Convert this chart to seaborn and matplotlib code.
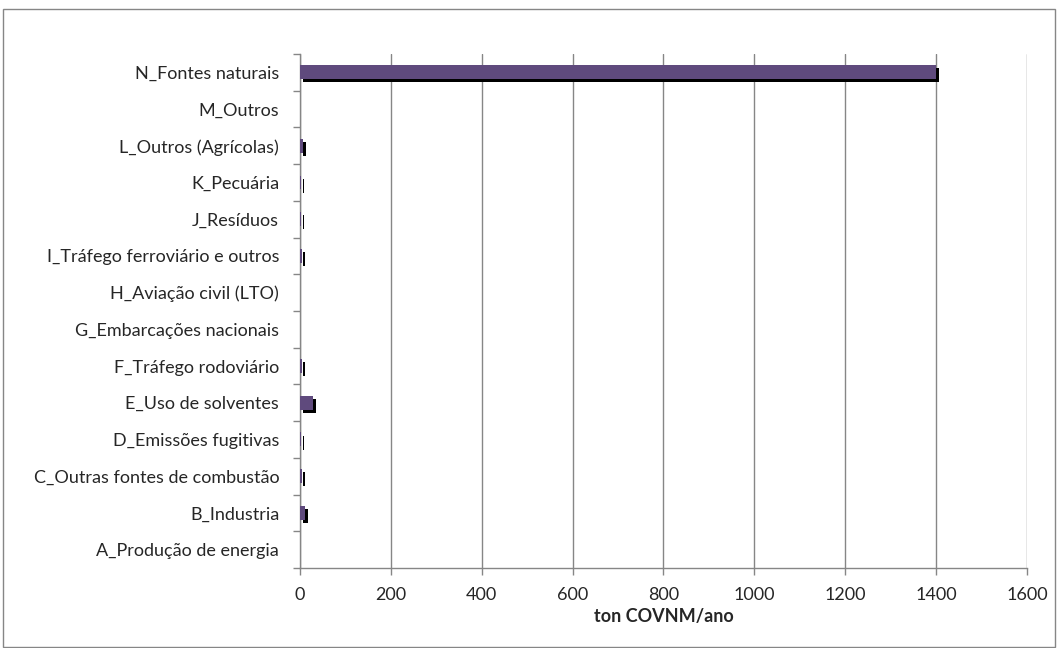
import numpy as np
import pandas as pd
import matplotlib
matplotlib.use("Agg")
import matplotlib.pyplot as plt
import matplotlib.patheffects as pe
from matplotlib.patches import Rectangle
import seaborn as sns

# Emission sources (A..N) and annual NMVOC emissions in tonnes
categories = [
    "A_Produção de energia",
    "B_Industria",
    "C_Outras fontes de combustão",
    "D_Emissões fugitivas",
    "E_Uso de solventes",
    "F_Tráfego rodoviário",
    "G_Embarcações nacionais",
    "H_Aviação civil (LTO)",
    "I_Tráfego ferroviário e outros",
    "J_Resíduos",
    "K_Pecuária",
    "L_Outros (Agrícolas)",
    "M_Outros",
    "N_Fontes naturais",
]
values = [0, 10, 4, 2, 28, 5, 0, 0, 5, 2, 2, 7, 0, 1400]
x_ticks = [0, 200, 400, 600, 800, 1000, 1200, 1400, 1600]
x_label = "ton COVNM/ano"

df = pd.DataFrame({"fonte": categories, "ton": values})

sns.set_theme(style="white")
plt.rcParams["font.family"] = ["Lato", "DejaVu Sans"]

fig = plt.figure(figsize=(10.57, 6.48), dpi=100)
ax = fig.add_axes([0.2838, 0.1235, 0.9716 - 0.2838, 0.9167 - 0.1235])

sns.barplot(
    data=df, y="fonte", x="ton", order=categories[::-1], orient="h",
    color="#5F4A7D", saturation=1, width=0.38, ax=ax, zorder=3,
)
for bar in ax.patches:
    bar.set_edgecolor("none")
    bar.set_path_effects([
        pe.SimplePatchShadow(offset=(2.2, -2.2), shadow_rgbFace="black", alpha=1),
        pe.Normal(),
    ])

ax.set_xlim(0, 1600)
ax.set_ylim(len(categories) - 0.5, -0.5)
ax.set_xticks(x_ticks)
ax.set_xticklabels([str(t) for t in x_ticks], fontsize=13)
ax.set_yticks(range(len(categories)))
ax.set_yticklabels(categories[::-1], fontsize=13)
ax.set_yticks(np.arange(-0.5, len(categories), 1), minor=True)
ax.tick_params(axis="y", which="major", length=0, pad=15)
ax.tick_params(axis="y", which="minor", length=5, width=1, color="#868686", left=True)
ax.tick_params(axis="x", which="major", length=5, width=1, color="#868686", bottom=True, pad=9)

ax.grid(axis="x", color="#868686", linewidth=1, zorder=0)
ax.set_axisbelow(True)
for side in ("top", "right"):
    ax.spines[side].set_visible(False)
for side in ("left", "bottom"):
    ax.spines[side].set_color("#868686")
    ax.spines[side].set_linewidth(1)

ax.set_ylabel("")
ax.set_xlabel(x_label, fontsize=13, fontweight="bold", labelpad=3)

# Chart-area border
fig.patches.append(Rectangle((0.003, 0.001), 0.995, 0.985, transform=fig.transFigure,
                             fill=False, edgecolor="#868686", linewidth=1))

fig.savefig("out.png", dpi=100, facecolor="white")
